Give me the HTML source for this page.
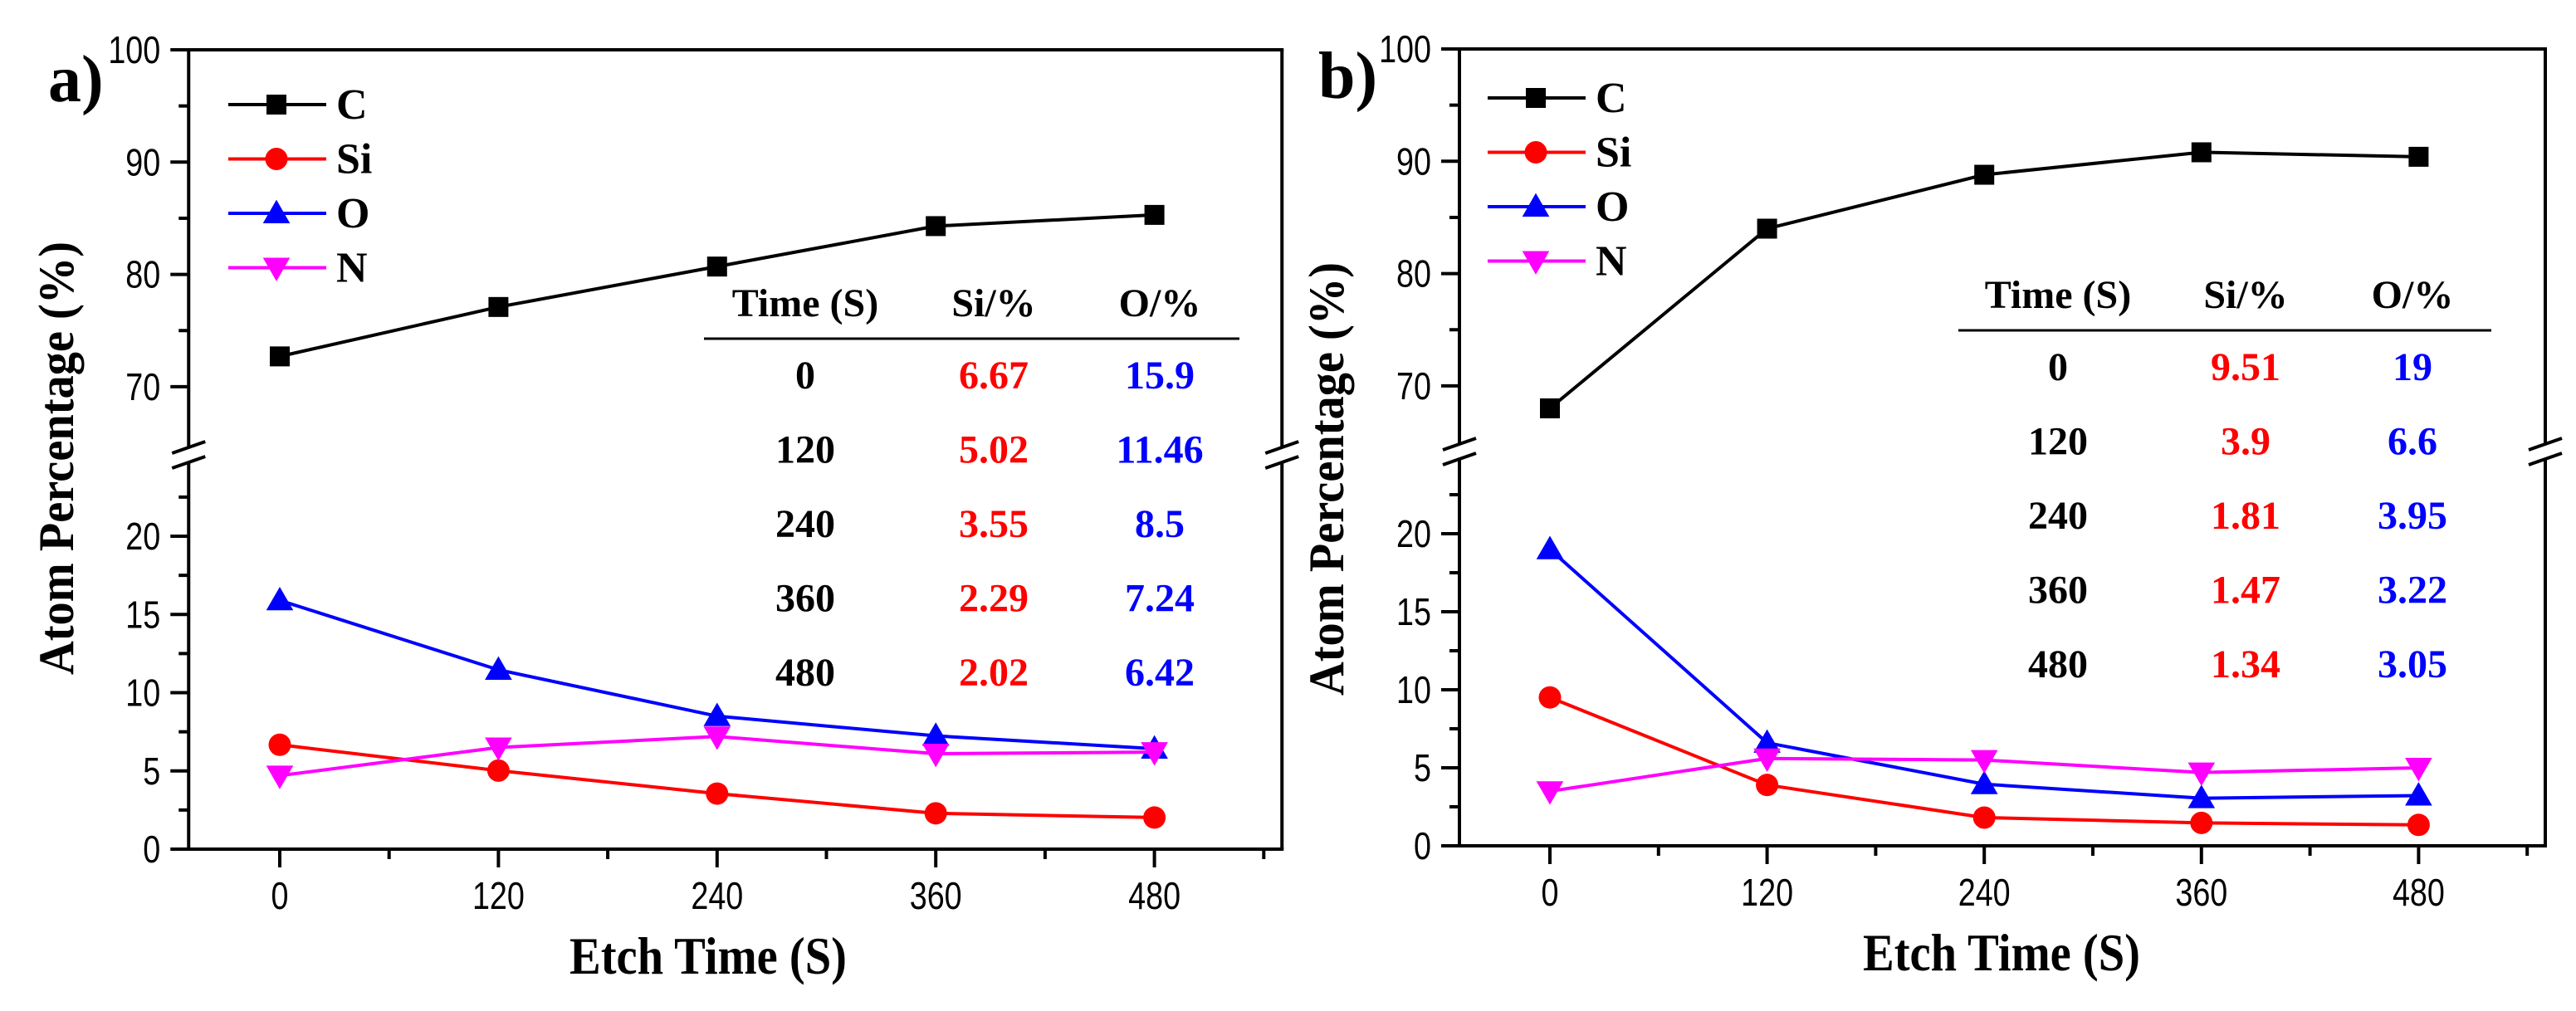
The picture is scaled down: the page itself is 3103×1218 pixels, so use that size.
<!DOCTYPE html>
<html><head><meta charset="utf-8"><style>
html,body{margin:0;padding:0;background:#fff;}
svg{display:block;}
.tk{font-family:"Liberation Sans",sans-serif;font-size:46px;fill:#000;}
.bf{font-family:"Liberation Serif",serif;font-weight:bold;fill:#000;}
</style></head><body>
<svg id="fig" width="3103" height="1218" viewBox="0 0 3103 1218" xmlns="http://www.w3.org/2000/svg"></svg>
<script>
const times = [0, 120, 240, 360, 480];
const seriesNames = ["C", "Si", "O", "N"];
const aC = [72.7, 77.1, 80.7, 84.3, 85.3];
const aSi = [6.67, 5.02, 3.55, 2.29, 2.02];
const aO = [15.9, 11.46, 8.5, 7.24, 6.42];
const aN = [4.7, 6.5, 7.2, 6.1, 6.2];
const bC = [68.0, 84.0, 88.8, 90.8, 90.4];
const bSi = [9.51, 3.9, 1.81, 1.47, 1.34];
const bO = [19.0, 6.6, 3.95, 3.05, 3.22];
const bN = [3.5, 5.6, 5.5, 4.7, 5.0];
const xTicks = [0, 120, 240, 360, 480];
const xMinor = [60, 180, 300, 420, 540];
const yUpperTicks = [70, 80, 90, 100];
const yUpperMinor = [75, 85, 95];
const yLowerTicks = [0, 5, 10, 15, 20];
const yLowerMinor = [2.5, 7.5, 12.5, 17.5, 22.5];
const tableTimes = ["0", "120", "240", "360", "480"];
const aTableSi = ["6.67", "5.02", "3.55", "2.29", "2.02"];
const aTableO = ["15.9", "11.46", "8.5", "7.24", "6.42"];
const bTableSi = ["9.51", "3.9", "1.81", "1.47", "1.34"];
const bTableO = ["19", "6.6", "3.95", "3.22", "3.05"];

const NS = "http://www.w3.org/2000/svg";
const svg = document.getElementById("fig");
function mk(tag, attrs, parent, text){
  const e = document.createElementNS(NS, tag);
  for (const k in attrs) e.setAttribute(k, attrs[k]);
  if (text !== undefined) e.textContent = text;
  (parent || svg).appendChild(e);
  return e;
}
const colors = ["#000000", "#ff0000", "#0000ff", "#ff00ff"];

function marker(g, type, x, y, col, s){
  let m;
  if (type === 0) m = mk("rect", {x:x-s/2, y:y-s/2, width:s, height:s, fill:col}, g);
  else if (type === 1) m = mk("circle", {cx:x, cy:y, r:s/2+1.5, fill:col}, g);
  else if (type === 2) m = mk("polygon", {points:`${x},${y-s*0.68} ${x-s*0.68},${y+s*0.5} ${x+s*0.68},${y+s*0.5}`, fill:col}, g);
  else m = mk("polygon", {points:`${x},${y+s*0.68} ${x-s*0.68},${y-s*0.5} ${x+s*0.68},${y-s*0.5}`, fill:col}, g);
  return m;
}

function tick(g, x, y, anchor, s){
  const t = mk("text", {x:0, y:0, "text-anchor":anchor, class:"tk", stroke:"none", transform:`translate(${x},${y}) scale(0.82,1)`}, g, s);
  return t;
}

function panel(P){
  const g = mk("g", {});
  
  
  const X = v => P.x0 + v * P.xs;
  const left = X(-50), right = X(550);
  const Y = v => v >= 50 ? P.top + (100 - v) * P.us : P.bot - v * P.ls;
  const br = P.brk;
  const ax = mk("g", {stroke:"#000", "stroke-width":4, fill:"none"}, g);
  
  
  mk("line", {x1:left-2, y1:P.top, x2:right+2, y2:P.top}, ax);
  mk("line", {x1:left-2, y1:P.bot, x2:right+2, y2:P.bot}, ax);
  mk("line", {x1:left, y1:P.top, x2:left, y2:br-10}, ax);
  mk("line", {x1:left, y1:br+10, x2:left, y2:P.bot}, ax);
  mk("line", {x1:right, y1:P.top, x2:right, y2:br-10}, ax);
  mk("line", {x1:right, y1:br+10, x2:right, y2:P.bot}, ax);
  [left, right].forEach(xx => {
    mk("line", {x1:xx-20, y1:br-2, x2:xx+20, y2:br-16}, ax);
    mk("line", {x1:xx-20, y1:br+16, x2:xx+20, y2:br+2}, ax);
  });
  yUpperTicks.concat(yLowerTicks).forEach(v => {
    const y = Y(v);
    mk("line", {x1:left-22, y1:y, x2:left, y2:y}, ax);
    const t = tick(g, left-34, y+16, "end", String(v));
    
    
  });
  yUpperMinor.concat(yLowerMinor).forEach(v => {
    const y = Y(v);
    mk("line", {x1:left-12, y1:y, x2:left, y2:y}, ax);
  });
  xTicks.forEach(v => {
    const x = X(v);
    mk("line", {x1:x, y1:P.bot, x2:x, y2:P.bot+22}, ax);
    const t = tick(g, x, P.bot+72, "middle", String(v));
    
    
  });
  xMinor.forEach(v => {
    const x = X(v);
    mk("line", {x1:x, y1:P.bot, x2:x, y2:P.bot+12}, ax);
  });
  const xt = mk("text", {x:P.xtx, y:P.bot+150, "text-anchor":"middle", class:"bf", "font-size":64, textLength:334, lengthAdjust:"spacingAndGlyphs"}, g, "Etch Time (S)");
  
  
  const yt = mk("text", {x:0, y:0, "text-anchor":"middle", class:"bf", "font-size":60, textLength:522, lengthAdjust:"spacingAndGlyphs", transform:`translate(${P.ytx},${P.yty}) rotate(-90)`}, g, "Atom Percentage (%)");
  
  
  const pl = mk("text", {x:P.lx, y:P.ly, class:"bf", "font-size":80}, g, P.label);
  
  
  P.data.forEach((arr, si) => {
    const sg = mk("g", {}, g);
    
    
    const pts = arr.map((v, i) => X(times[i]) + "," + Y(v)).join(" ");
    const ln = mk("polyline", {points:pts, fill:"none", stroke:colors[si], "stroke-width":4}, sg);
    
    
    arr.forEach((v, i) => {
      const m = marker(sg, si, X(times[i]), Y(v), colors[si], 24);
      
      
    });
  });
  const lg = mk("g", {}, g);
  
  
  seriesNames.forEach((n, i) => {
    const y = P.legY + i * 65.5;
    const e = mk("g", {}, lg);
    
    
    mk("line", {x1:P.legX, y1:y, x2:P.legX+118, y2:y, stroke:colors[i], "stroke-width":4}, e);
    marker(e, i, P.legX+58, y, colors[i], 24);
    mk("text", {x:P.legX+130, y:y+17, class:"bf", "font-size":52}, e, n);
  });
  const tb = mk("g", {}, g);
  
  
  const hdr = ["Time (S)", "Si/%", "O/%"];
  hdr.forEach((h, i) => {
    const t = mk("text", {x:P.cols[i], y:P.hy, "text-anchor":"middle", class:"bf", "font-size":48}, tb, h);
    
    
  });
  mk("line", {x1:P.lineX1, y1:P.hy+27, x2:P.lineX2, y2:P.hy+27, stroke:"#000", "stroke-width":3}, tb);
  tableTimes.forEach((tt, r) => {
    const y = P.hy + 87 + r * 89.5;
    mk("text", {x:P.cols[0], y:y, "text-anchor":"middle", class:"bf", "font-size":48}, tb, tt);
    mk("text", {x:P.cols[1], y:y, "text-anchor":"middle", class:"bf", "font-size":48, style:"fill:#ff0000"}, tb, P.tSi[r]);
    mk("text", {x:P.cols[2], y:y, "text-anchor":"middle", class:"bf", "font-size":48, style:"fill:#0000ff"}, tb, P.tO[r]);
  });
}

panel({name:"panel-a", label:"a)", lx:58, ly:122, x0:337, xs:2.195, top:60, bot:1023, us:13.53, ls:18.85, brk:548,
  xtx:853, ytx:88, yty:552, legX:275, legY:126, data:[aC, aSi, aO, aN],
  cols:[970, 1197, 1397], hy:381, lineX1:848, lineX2:1493, tSi:aTableSi, tO:aTableO});
panel({name:"panel-b", label:"b)", lx:1588, ly:118, x0:1867, xs:2.18, top:59, bot:1019, us:13.53, ls:18.8, brk:544,
  xtx:2411, ytx:1618, yty:577, legX:1792, legY:118, data:[bC, bSi, bO, bN],
  cols:[2479, 2705, 2906], hy:371, lineX1:2359, lineX2:3001, tSi:bTableSi, tO:bTableO});
</script>
</body></html>
